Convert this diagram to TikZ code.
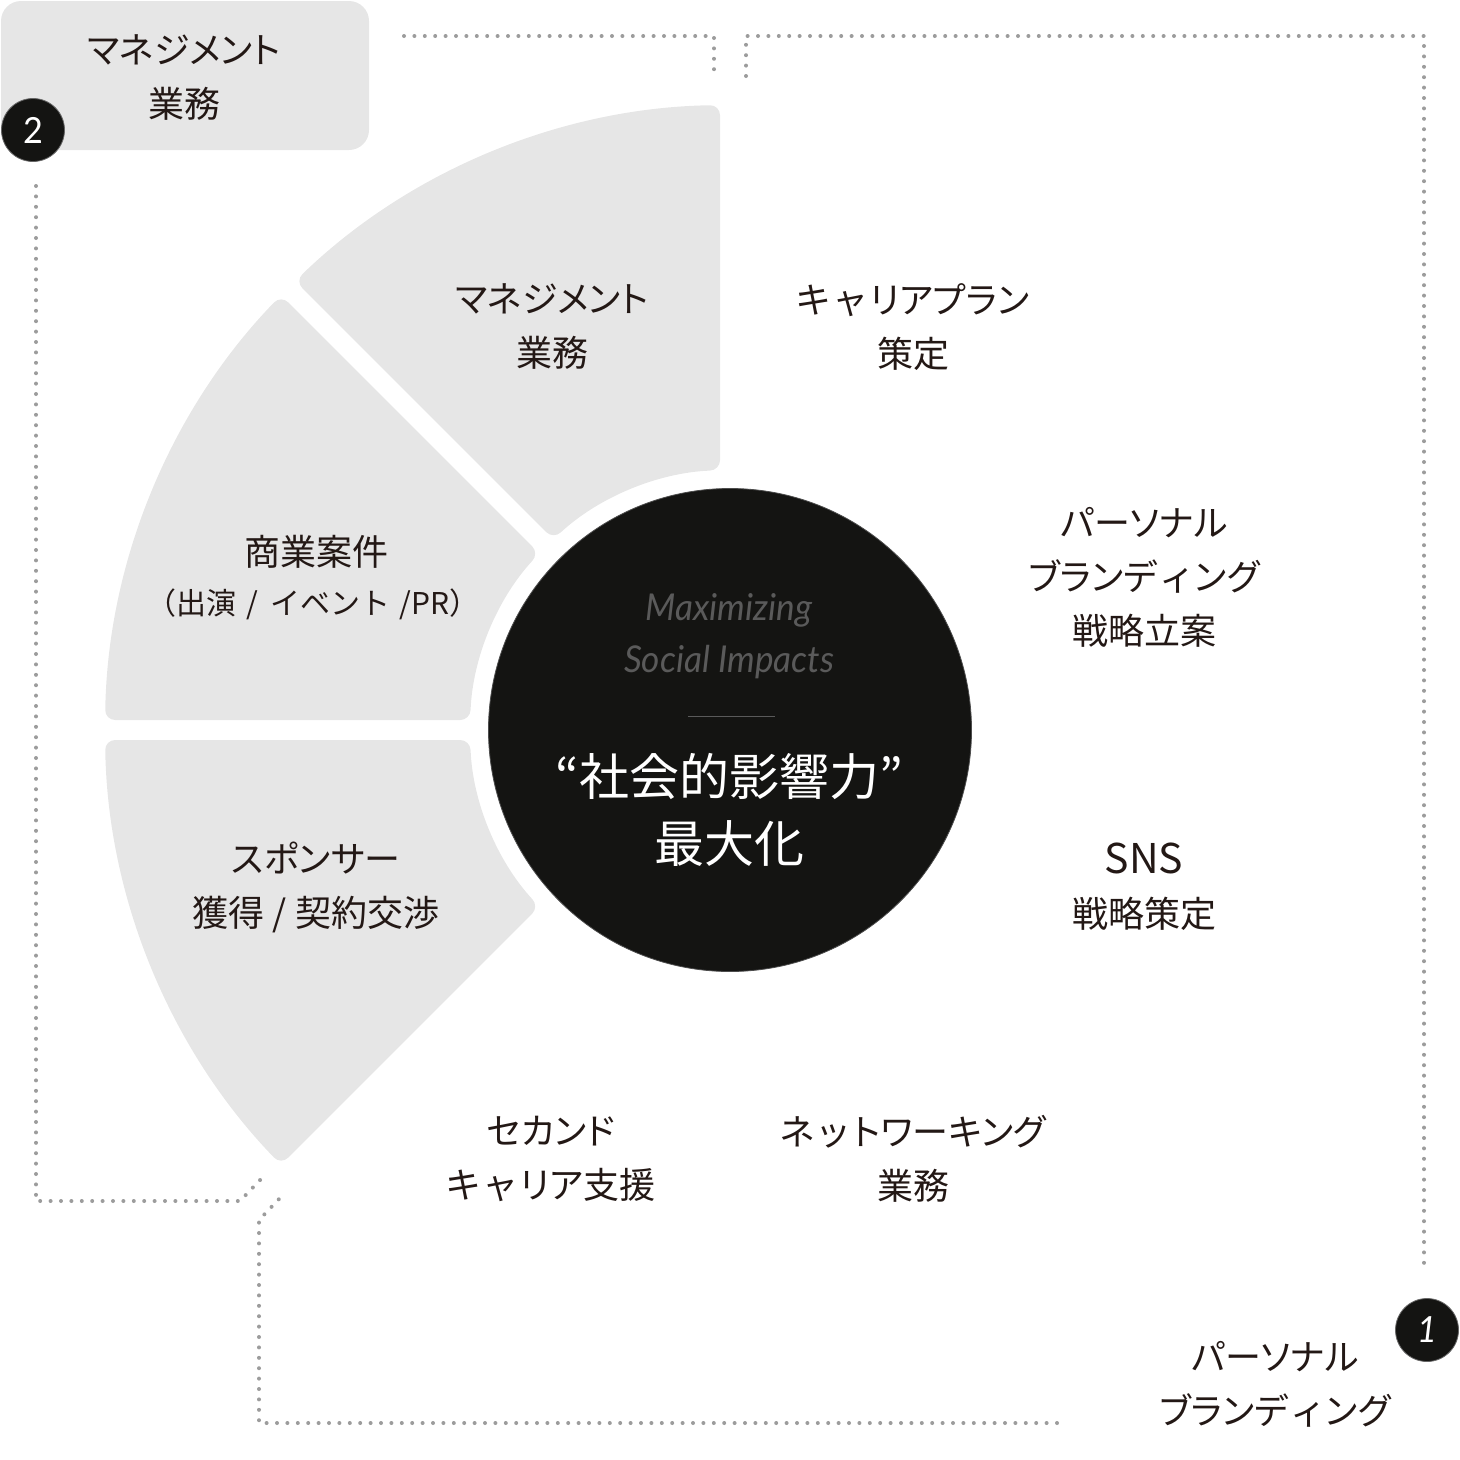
\documentclass[tikz,border=0pt]{standalone}
\usepackage{fontspec}
\newfontfamily\jp[RawFeature={+palt}]{Noto Sans CJK JP}
\newfontfamily\jpw{Noto Sans CJK JP}
\newfontfamily\condit[FakeStretch=0.95]{Lato}
\newcommand\sk[1]{\kern5pt#1\kern5pt}
\definecolor{ink}{HTML}{231815}
\definecolor{segfill}{HTML}{E6E6E6}
\definecolor{coreblack}{HTML}{141412}
\definecolor{dotgray}{HTML}{9C9C9C}
\definecolor{subgray}{HTML}{5A5A5A}
\begin{document}
\begin{tikzpicture}[x=1pt,y=-1pt,
  seg/.style={fill=segfill, rounded corners=10pt},
  lbl/.style={font=\jp\fontsize{36}{54}\selectfont, text=ink, align=center, inner sep=0pt},
  small/.style={font=\jpw\fontsize{30}{40}\selectfont, text=ink, align=center, inner sep=0pt},
  dotline/.style={draw=dotgray, line width=4pt, line cap=round, dash pattern=on 0pt off 10.4pt},
  badge/.style={circle, fill=coreblack, draw=black!60, line width=0.8pt, minimum size=63pt, inner sep=0pt, text=white, font=\condit\fontsize{36}{36}\selectfont}]
\useasboundingbox (0,0) rectangle (1460,1460);
\coordinate (C) at (730,730);
\newcommand\segment[2]{%
  \fill[seg] ([shift={(#1+0.917:625)}]C) arc[start angle={#1+0.917}, end angle={#2-0.917}, radius=625]
   -- ([shift={(#2-2.204:260)}]C) arc[start angle={#2-2.204}, end angle={#1+2.204}, radius=260] -- cycle;}
% gray segments (management)
\segment{225}{270}
\segment{180}{225}
\segment{135}{180}
% core circle
\node[circle, fill=coreblack, draw=black!70, line width=0.8pt, minimum size=483pt, inner sep=0pt] (core) at (C) {};
\node[font=\condit\itshape\fontsize{37}{52}\selectfont, text=subgray, align=center, inner sep=0pt] (en) at (729,636) {Maximizing\\Social Impacts};
\coordinate (rulea) at (688,716);
\coordinate (ruleb) at (775,716);
\draw[subgray, line width=0.9pt] (rulea) -- (ruleb);
\node[font=\jp\fontsize{50}{67}\selectfont, text=white, align=center, inner sep=0pt] (jpcore) at (729,810) {“社会的影響力”\\最大化};
% top-left legend box
\node[fill=segfill, rounded corners=20pt, minimum width=368pt, minimum height=149pt, inner sep=0pt] (mgmtbox) at (185,75.5) {};
\node[lbl] (mgmtlbl) at (184,78) {マネジメント\\業務};
\node[badge] (b2) at (33,130) {2};
% dotted frames
\coordinate (f2a) at (404,36);
\coordinate (f2b) at (714,36);
\coordinate (f2c) at (714,76);
\draw[dotline] (f2a) -- (f2b) -- (f2c);
\coordinate (f2d) at (36,186);
\coordinate (f2e) at (36,1201);
\coordinate (f2f) at (240,1201);
\coordinate (f2g) at (262,1178);
\draw[dotline] (f2d) -- (f2e) -- (f2f) -- (f2g);
\coordinate (f1a) at (746,76);
\coordinate (f1b) at (746,36);
\coordinate (f1c) at (1424,36);
\coordinate (f1d) at (1424,1268);
\draw[dotline] (f1a) -- (f1b) -- (f1c) -- (f1d);
\coordinate (f1e) at (1057,1423);
\coordinate (f1f) at (259,1423);
\coordinate (f1g) at (259,1220);
\coordinate (f1h) at (280,1198);
\draw[dotline] (f1e) -- (f1f) -- (f1g) -- (f1h);
\node[badge, font=\condit\itshape\fontsize{36}{36}\selectfont] (b1) at (1427,1330) {1};
% segment labels
\node[lbl] (s1) at (552,327) {マネジメント\\業務};
\node[lbl] (s2a) at (316,552) {商業案件};
\node[small] (s2b) at (313,604) {（出演\hspace{10pt}/\hspace{12pt}イベント\hspace{9pt}/PR）};
\node[lbl] (s3) at (316,887) {スポンサー\\獲得 / 契約交渉};
% personal branding items
\node[lbl] (p1) at (913,327) {キ\sk{ャ}リアプラン\\策定};
\node[lbl] (p2) at (1144,577) {パーソナル\\ブランデ\sk{ィ}ング\\戦略立案};
\node[lbl] (p3) at (1144,887) {{\fontsize{41}{54}\selectfont SNS}\\戦略策定};
\node[lbl] (p4) at (551,1159) {セカンド\\キ\sk{ャ}リア支援};
\node[lbl] (p5) at (913,1159) {ネ\sk{ッ}トワーキング\\業務};
\node[lbl] (pb) at (1275,1384) {パーソナル\\ブランデ\sk{ィ}ング};
\end{tikzpicture}
\end{document}
